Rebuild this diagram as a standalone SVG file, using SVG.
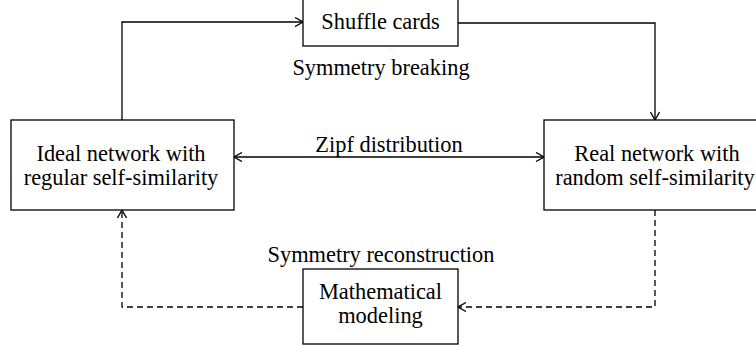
<svg xmlns="http://www.w3.org/2000/svg" width="756" height="345" viewBox="0 0 756 345">
<style>
.box{fill:#fff;stroke:#000;stroke-width:1.3}
.t{font-family:"Liberation Serif",serif;font-size:22.4px;fill:#000;text-anchor:middle}
.c{fill:none;stroke:#000;stroke-width:1.3}
.d{stroke-dasharray:6,4}
</style>
<defs>
<marker id="ah" viewBox="0 0 10 10" refX="9" refY="5" markerWidth="10" markerHeight="10" markerUnits="userSpaceOnUse" orient="auto-start-reverse">
<path d="M1,0.5 L9,5 L1,9.5" fill="none" stroke="#000" stroke-width="1.3"/>
</marker>
</defs>
<rect width="756" height="345" fill="#fff"/>
<g id="connectors">
<path class="c" d="M122,120 V22 H303" marker-end="url(#ah)"/>
<path class="c" d="M458,23 H655 V120" marker-end="url(#ah)"/>
<path class="c" d="M234,157 H544" marker-start="url(#ah)" marker-end="url(#ah)"/>
<path class="c d" d="M655,210 V307 H458" marker-end="url(#ah)"/>
<path class="c d" d="M303,307 H122 V210" marker-end="url(#ah)"/>
<text class="t" x="381" y="75">Symmetry breaking</text>
<text class="t" x="389" y="152">Zipf distribution</text>
<text class="t" x="381" y="262">Symmetry reconstruction</text>
</g>
<g id="shuffle">
<rect class="box" x="303" y="-1" width="155" height="47"/>
<text class="t" x="380.5" y="29">Shuffle cards</text>
</g>
<g id="ideal">
<rect class="box" x="11" y="120" width="223" height="90"/>
<text class="t" x="121" y="161">Ideal network with</text>
<text class="t" x="121" y="185">regular self-similarity</text>
</g>
<g id="real">
<rect class="box" x="544" y="120" width="222" height="90"/>
<text class="t" x="657" y="161">Real network with</text>
<text class="t" x="655" y="185">random self-similarity</text>
</g>
<g id="math">
<rect class="box" x="303" y="269" width="155" height="75"/>
<text class="t" x="380.5" y="299">Mathematical</text>
<text class="t" x="380.5" y="323">modeling</text>
</g>
</svg>
